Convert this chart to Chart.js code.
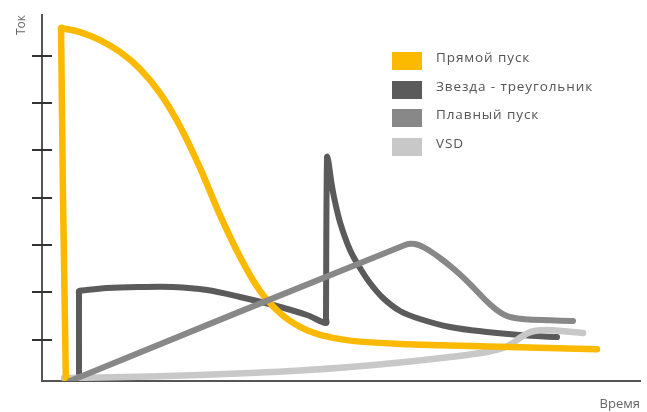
<!DOCTYPE html>
<html>
<head>
<meta charset="utf-8">
<script src="https://cdn.jsdelivr.net/npm/chart.js@4/dist/chart.umd.min.js"></script>
<style>
  body { margin: 0; background: #fff; }
  #wrap { position: relative; width: 647px; height: 412px; }
  #legend { position: absolute; left: 392px; top: 52px; font-family: 'Open Sans', sans-serif; font-size: 13.5px; letter-spacing: 0.9px; color: #555; }
  .item { display: flex; align-items: flex-start; height: 28.7px; }
  .box { width: 30px; height: 18px; margin-right: 14px; }
  .txt { margin-top: -4px; line-height: 18px; }
</style>
</head>
<body>
<div id="wrap">
  <canvas id="chart" width="647" height="412"></canvas>
  <div id="legend"></div>
</div>
<script>
// названия серий
const seriesNames = ['Прямой пуск', 'Звезда - треугольник', 'Плавный пуск', 'VSD'];

// Прямой пуск
const directX = [4.01, 3.18, 3.6, 6.35, 9.7, 13.04, 16.39, 19.73, 23.08, 26.42, 29.77, 33.11, 36.45, 39.8, 43.14, 46.49, 51.51, 59.87, 76.59, 92.81];
const directY = [0, 7.585, 7.575, 7.5, 7.33, 7.08, 6.72, 6.21, 5.51, 4.63, 3.63, 2.75, 2.03, 1.56, 1.27, 1.1, 0.98, 0.91, 0.85, 0.8];

// Звезда - треугольник
const starX = [6.19, 6.19, 6.19, 6.69, 10.87, 16.39, 21.91, 27.59, 33.11, 38.63, 44.31, 47.49, 47.49, 47.66, 47.91, 48.33, 48.83, 49.83, 51.51, 53.18, 54.85, 57.02, 59.87, 63.21, 68.23, 74.41, 79.93, 86.12];
const starY = [0, 1.965, 2.028, 2.039, 2.092, 2.113, 2.113, 2.049, 1.902, 1.733, 1.521, 1.352, 1.458, 4.86, 4.754, 4.374, 4.014, 3.486, 2.895, 2.514, 2.197, 1.88, 1.606, 1.437, 1.268, 1.162, 1.099, 1.056];

// Плавный пуск
const softX = [4.68, 60.7, 62.37, 64.05, 66.55, 69.06, 71.57, 74.08, 75.75, 77.09, 78.6, 80.77, 84.95, 88.8];
const softY = [0.127, 3.0, 3.021, 2.937, 2.726, 2.472, 2.176, 1.848, 1.658, 1.542, 1.468, 1.43, 1.409, 1.394];

// VSD
const vsdX = [3.68, 9.7, 18.06, 26.42, 34.78, 43.14, 51.51, 59.87, 68.23, 74.41, 77.09, 78.76, 79.93, 81.61, 83.28, 85.45, 90.47];
const vsdY = [0.19, 0.2, 0.222, 0.254, 0.296, 0.349, 0.423, 0.518, 0.634, 0.739, 0.824, 0.93, 1.04, 1.16, 1.2, 1.2, 1.14];

const yTicks = [1, 2, 3, 4, 5, 6, 7];

const pts = (xs, ys) => xs.map((x, i) => ({ x: x, y: ys[i] }));

Chart.defaults.font.family = "'Open Sans', sans-serif";
Chart.defaults.color = '#666';

const lineStyle = { pointRadius: 0, tension: 0.35, borderWidth: 6, borderJoinStyle: 'miter', borderCapStyle: 'round', clip: 0, fill: false };

// короткие засечки на оси Y (по обе стороны оси)
const tickMarks = {
  id: 'tickMarks',
  afterDraw(chart) {
    const y = chart.scales.y;
    const x0 = chart.chartArea.left;
    const ctx = chart.ctx;
    ctx.save();
    ctx.strokeStyle = '#333';
    ctx.lineWidth = 2;
    yTicks.forEach(v => {
      const py = Math.round(y.getPixelForValue(v));
      ctx.beginPath();
      ctx.moveTo(x0 - 10, py);
      ctx.lineTo(x0 + 10, py);
      ctx.stroke();
    });
    ctx.restore();
  }
};

const chart = new Chart(document.getElementById('chart'), {
  type: 'line',
  data: {
    datasets: [
      { ...lineStyle, label: seriesNames[0], data: pts(directX, directY), borderColor: '#FBBA00', backgroundColor: '#FBBA00', borderWidth: 6.5, order: 1 },
      { ...lineStyle, label: seriesNames[1], data: pts(starX, starY), borderColor: '#5B5B5B', backgroundColor: '#5B5B5B', order: 3 },
      { ...lineStyle, label: seriesNames[2], data: pts(softX, softY), borderColor: '#888888', backgroundColor: '#888888', order: 0 },
      { ...lineStyle, label: seriesNames[3], data: pts(vsdX, vsdY), borderColor: '#C8C8C8', backgroundColor: '#C8C8C8', borderWidth: 6.5, order: 2 }
    ]
  },
  options: {
    responsive: false,
    animation: false,
    layout: { padding: { left: 0, top: 15, right: 7, bottom: 0 } },
    plugins: { legend: { display: false }, tooltip: { enabled: false } },
    scales: {
      x: {
        type: 'linear', min: 0, max: 100,
        ticks: { display: false },
        grid: { display: false, drawTicks: false },
        border: { display: true, color: '#555', width: 2 },
        title: { display: true, text: 'Время', align: 'end', color: '#666', font: { size: 13 }, padding: { top: 15.2, bottom: 0.2 } }
      },
      y: {
        min: 0.127, max: 7.86,
        ticks: { display: false },
        grid: { display: false, drawTicks: false },
        border: { display: true, color: '#555', width: 2 },
        title: { display: true, text: 'Ток', align: 'end', color: '#666', font: { size: 12 }, padding: { top: 14.8, bottom: 12.8 } }
      }
    }
  },
  plugins: [tickMarks]
});

// легенда справа вверху
document.getElementById('legend').innerHTML = chart.data.datasets.map(ds =>
  `<div class="item"><div class="box" style="background:${ds.borderColor}"></div><div class="txt">${ds.label}</div></div>`
).join('');
</script>
</body>
</html>
